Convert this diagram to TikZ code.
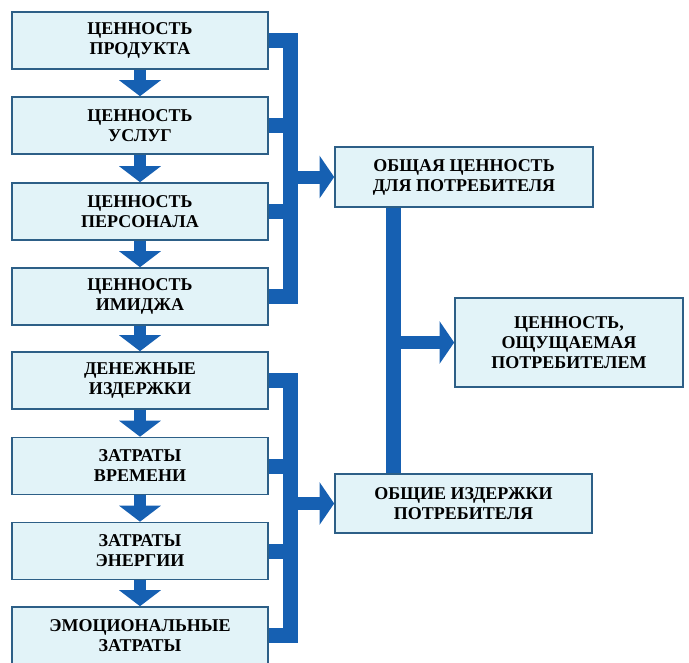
\documentclass[tikz,border=0pt]{standalone}
\usepackage{fontspec}
\setmainfont{Liberation Serif}
\usetikzlibrary{arrows.meta,calc}
\definecolor{boxfill}{RGB}{226,243,248}
\definecolor{boxline}{RGB}{45,95,135}
\definecolor{arrowblue}{RGB}{22,96,178}

\begin{document}
\begin{tikzpicture}[x=0.75pt,y=-0.75pt,
    item/.style={draw=boxline, line width=1.2pt, fill=boxfill, align=center,
      font=\bfseries\fontsize{13.5}{15}\selectfont,
      minimum width=192pt, minimum height=42.75pt, inner sep=0pt},
    bar/.style={draw=arrowblue, line width=11.25pt, line join=miter},
    downarrow/.style={draw=arrowblue, line width=9pt,
      -{Triangle[width=30.75pt,length=12pt]}, fill=arrowblue},
    rightarrow/.style={draw=arrowblue, line width=9.75pt,
      -{Triangle[width=31.5pt,length=11pt]}, fill=arrowblue}]
    \useasboundingbox (0,0) rectangle (689,662);
    % left column
    \node[item] (p1) at (140,40.5) {ЦЕННОСТЬ\\ПРОДУКТА};
    \node[item] (p2) at (140,125.5) {ЦЕННОСТЬ\\УСЛУГ};
    \node[item] (p3) at (140,211.5) {ЦЕННОСТЬ\\ПЕРСОНАЛА};
    \node[item] (p4) at (140,296.5) {ЦЕННОСТЬ\\ИМИДЖА};
    \node[item] (c1) at (140,380.5) {ДЕНЕЖНЫЕ\\ИЗДЕРЖКИ};
    \node[item] (c2) at (140,466) {ЗАТРАТЫ\\ВРЕМЕНИ};
    \node[item] (c3) at (140,551) {ЗАТРАТЫ\\ЭНЕРГИИ};
    \node[item] (c4) at (140,635.5) {ЭМОЦИОНАЛЬНЫЕ\\ЗАТРАТЫ};
    % right column
    \node[item, minimum width=193.5pt, minimum height=45pt] (tv) at (464,177)
      {ОБЩАЯ ЦЕННОСТЬ\\ДЛЯ ПОТРЕБИТЕЛЯ};
    \node[item, minimum width=171pt, minimum height=66.75pt] (tp) at (569,342.5)
      {ЦЕННОСТЬ,\\ОЩУЩАЕМАЯ\\ПОТРЕБИТЕЛЕМ};
    \node[item, minimum width=192.75pt, minimum height=44.25pt] (tc) at (463.5,503.5)
      {ОБЩИЕ ИЗДЕРЖКИ\\ПОТРЕБИТЕЛЯ};
    % down arrows
    \draw[downarrow] (p1.south) -- (p2.north);
    \draw[downarrow] (p2.south) -- (p3.north);
    \draw[downarrow] (p3.south) -- (p4.north);
    \draw[downarrow] (p4.south) -- (c1.north);
    \draw[downarrow] (c1.south) -- (c2.north);
    \draw[downarrow] (c2.south) -- (c3.north);
    \draw[downarrow] (c3.south) -- (c4.north);
    % brackets
    \coordinate (tb) at ($(p1.east)+(21.5,0)$);
    \draw[bar] (p1.east) -- (tb) -- (tb |- p4.east) -- (p4.east);
    \draw[bar] (p2.east) -- (tb |- p2.east);
    \draw[bar] (p3.east) -- (tb |- p3.east);
    \draw[rightarrow] (tb |- tv.west) -- (tv.west);
    \coordinate (cb) at ($(c1.east)+(21.5,0)$);
    \draw[bar] (c1.east) -- (cb) -- (cb |- c4.east) -- (c4.east);
    \draw[bar] (c2.east) -- (cb |- c2.east);
    \draw[bar] (c3.east) -- (cb |- c3.east);
    \draw[rightarrow] (cb |- tc.west) -- (tc.west);
    % total value and costs
    \coordinate (vb) at ($(tv.south west)+(59.5,0)$);
    \draw[bar] (vb) -- (vb |- tc.north);
    \draw[rightarrow] (vb |- tp.west) -- (tp.west);
\end{tikzpicture}
\end{document}
